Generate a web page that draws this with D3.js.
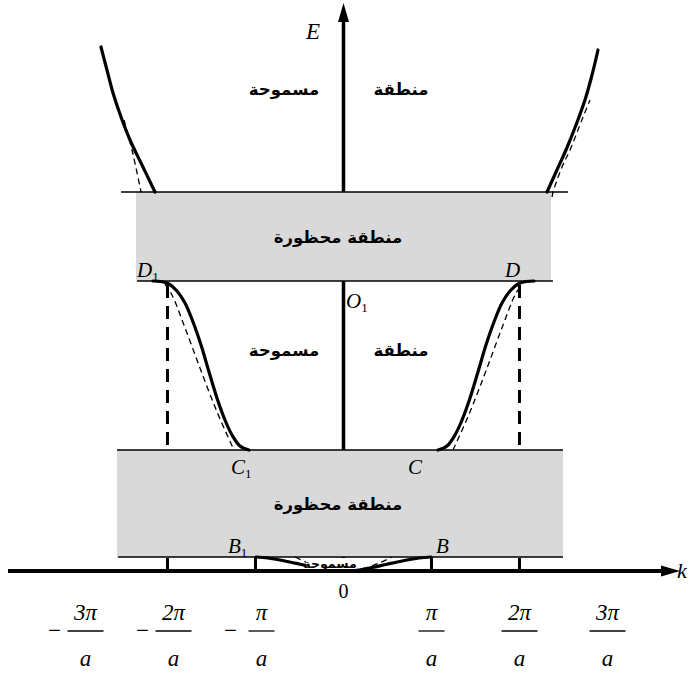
<!DOCTYPE html>
<html>
<head>
<meta charset="utf-8">
<script src="https://cdn.jsdelivr.net/npm/d3@7"></script>
<style>
  html, body { margin: 0; padding: 0; background: #fff; }
  svg { display: block; }
</style>
</head>
<body>
<svg id="chart" width="690" height="674"></svg>
<script>
// Wave vector k is measured in units of π/a, energy E in arbitrary units.
const tickK = [-3, -2, -1, 0, 1, 2, 3];
const tickNum = ["3π", "2π", "π", "0", "π", "2π", "3π"];
const tickSign = ["−", "−", "−", "", "", "", ""];

// Forbidden gaps: lower and upper energy edge of each
const gapLow = [1.4, 29.0];
const gapHigh = [12.1, 37.9];
const gapLabel = ["منطقة محظورة", "منطقة محظورة"];

// Allowed bands, E(k) (thick) and the free-electron parabola (thin dashed)
const band1 = [[-0.994, 1.4], [-0.858, 1.3], [-0.665, 1.0], [-0.494, 0.68], [-0.324, 0.35],
               [-0.176, 0.1], [0, 0], [0.176, 0.1], [0.324, 0.35], [0.494, 0.68],
               [0.665, 1.0], [0.858, 1.3], [0.994, 1.4]];
const band1Free = [[-0.55, 1.4], [-0.42, 0.85], [-0.3, 0.45], [-0.15, 0.1], [0, 0],
                   [0.15, 0.1], [0.3, 0.45], [0.42, 0.85], [0.55, 1.4]];

const band2Left = [[-2.165, 29.0], [-2.074, 28.95], [-1.983, 28.7], [-1.892, 28.0], [-1.801, 26.8],
                   [-1.710, 24.9], [-1.619, 22.6], [-1.528, 19.9], [-1.438, 17.3], [-1.347, 15.1],
                   [-1.267, 13.6], [-1.176, 12.5], [-1.074, 12.1]];
const band2Right = [[1.074, 12.1], [1.176, 12.5], [1.267, 13.6], [1.347, 15.1], [1.438, 17.3],
                    [1.528, 19.9], [1.619, 22.6], [1.710, 24.9], [1.801, 26.8], [1.892, 28.0],
                    [1.983, 28.7], [2.074, 28.95], [2.165, 29.0]];
const band2LeftFree = [[-2.028, 28.7], [-1.949, 27.6], [-1.813, 24.6], [-1.631, 20.3],
                       [-1.437, 15.9], [-1.244, 12.1]];
const band2RightFree = [[1.244, 12.1], [1.437, 15.9], [1.631, 20.3], [1.813, 24.6],
                        [1.949, 27.6], [2.028, 28.7]];

const band3Left = [[-2.756, 52.4], [-2.688, 50.1], [-2.619, 47.8], [-2.528, 45.4],
                   [-2.426, 43.1], [-2.290, 40.6], [-2.142, 37.9]];
const band3Right = [[2.313, 37.9], [2.415, 39.9], [2.528, 42.1], [2.642, 44.6],
                    [2.744, 47.1], [2.824, 49.6], [2.892, 52.1]];
const band3LeftFree = [[-2.494, 45.1], [-2.403, 42.1], [-2.301, 37.9]];
const band3RightFree = [[2.37, 37.4], [2.381, 37.9], [2.483, 40.4], [2.574, 42.1],
                        [2.722, 45.4], [2.801, 47.1]];

// Band labels ("allowed region" split either side of the E axis)
const allowedRight = "منطقة";
const allowedLeft = "مسموحة";
const allowedE = [47.6, 21.5];

const svg = d3.select("#chart");
const x = d3.scaleLinear().domain([0, 1]).range([343.5, 431.5]);
const y = d3.scaleLinear().domain([0, 10]).range([571, 471]);

const line = d3.line().x(d => x(d[0])).y(d => y(d[1])).curve(d3.curveCatmullRom.alpha(0.5));

// Vertical dashed guides at the zone boundaries
const guides = [
  { k: -2, e0: 0, e1: gapLow[1] }, { k: 2, e0: 0, e1: gapLow[1] },
  { k: -1, e0: 0, e1: gapLow[0] }, { k: 1, e0: 0, e1: gapLow[0] }
];
svg.selectAll("line.guide").data(guides).join("line")
  .attr("class", "guide")
  .attr("x1", d => x(d.k)).attr("x2", d => x(d.k))
  .attr("y1", d => y(d.e0)).attr("y2", d => y(d.e1))
  .attr("stroke", "#000").attr("stroke-width", 3)
  .attr("stroke-dasharray", "13,8");

// E axis
svg.append("line")
  .attr("x1", x(0)).attr("x2", x(0))
  .attr("y1", y(0)).attr("y2", 18)
  .attr("stroke", "#000").attr("stroke-width", 3.5);
svg.append("path")
  .attr("d", `M${x(0)},3 L${x(0) - 5.5},22 L${x(0) + 5.5},22 Z`)
  .attr("fill", "#000");

// Forbidden gaps
const gapX = [[-2.574, 2.494], [-2.358, 2.358]];
svg.selectAll("rect.gap").data(gapLow).join("rect")
  .attr("class", "gap")
  .attr("x", (d, i) => x(gapX[i][0]))
  .attr("width", (d, i) => x(gapX[i][1]) - x(gapX[i][0]))
  .attr("y", (d, i) => y(gapHigh[i]))
  .attr("height", (d, i) => y(gapLow[i]) - y(gapHigh[i]))
  .attr("fill", "#d9d9d9");

const edgeLines = [
  { e: gapLow[0], k0: -2.562, k1: 2.494 },
  { e: gapHigh[0], k0: -2.574, k1: 2.494 },
  { e: gapLow[1], k0: -2.346, k1: 2.38 },
  { e: gapHigh[1], k0: -2.528, k1: 2.551 }
];
svg.selectAll("line.edge").data(edgeLines).join("line")
  .attr("class", "edge")
  .attr("x1", d => x(d.k0)).attr("x2", d => x(d.k1))
  .attr("y1", d => y(d.e)).attr("y2", d => y(d.e))
  .attr("stroke", "#000").attr("stroke-width", 1.6);

// Free-electron parabola segments
[band1Free, band2LeftFree, band2RightFree, band3LeftFree, band3RightFree].forEach(seg => {
  svg.append("path").attr("d", line(seg))
    .attr("fill", "none").attr("stroke", "#000").attr("stroke-width", 1.3)
    .attr("stroke-dasharray", "6,4");
});

// Band curves
[band1, band2Left, band2Right, band3Left, band3Right].forEach(seg => {
  svg.append("path").attr("d", line(seg))
    .attr("fill", "none").attr("stroke", "#000").attr("stroke-width", 3.2)
    .attr("stroke-linecap", "round");
});

// Arabic labels
const arFont = "'DejaVu Sans', sans-serif";
allowedE.forEach(e => {
  svg.append("text").attr("x", 401).attr("y", y(e)).attr("text-anchor", "middle")
    .attr("font-family", arFont).attr("font-weight", "bold").attr("font-size", 16.5)
    .text(allowedRight);
  svg.append("text").attr("x", 284).attr("y", y(e)).attr("text-anchor", "middle")
    .attr("font-family", arFont).attr("font-weight", "bold").attr("font-size", 16.5)
    .text(allowedLeft);
});
gapLabel.forEach((t, i) => {
  svg.append("text").attr("x", 338).attr("y", y((gapLow[i] + gapHigh[i]) / 2) + 6)
    .attr("text-anchor", "middle")
    .attr("font-family", arFont).attr("font-weight", "bold").attr("font-size", 16.5)
    .text(t);
});
// small label inside the lowest band
const smallLbl = svg.append("g");
smallLbl.append("rect").attr("x", 306).attr("y", 558).attr("width", 50).attr("height", 11).attr("fill", "#fff");
smallLbl.append("text").attr("x", 330).attr("y", 568).attr("text-anchor", "middle")
  .attr("font-family", arFont).attr("font-weight", "bold").attr("font-size", 12.5)
  .text(allowedLeft);

// k axis
svg.append("line")
  .attr("x1", 8).attr("x2", 665)
  .attr("y1", y(0)).attr("y2", y(0))
  .attr("stroke", "#000").attr("stroke-width", 4);
svg.append("path")
  .attr("d", `M680,${y(0)} L661,${y(0) - 5.5} L661,${y(0) + 5.5} Z`)
  .attr("fill", "#000");

// Italic serif symbols
const serif = "'Liberation Serif', 'Times New Roman', serif";
function sym(txt, sub, px, py, size) {
  const t = svg.append("text").attr("x", px).attr("y", py)
    .attr("font-family", serif).attr("font-size", size);
  t.append("tspan").attr("font-style", "italic").text(txt);
  if (sub) t.append("tspan").attr("font-size", size * 0.62).attr("dy", 4).text(sub);
}
sym("E", "", 306, 39, 23);
sym("k", "", 677, 578, 22);
sym("D", "1", 137, 277, 21);
sym("D", "", 505, 277, 21);
sym("O", "1", 346, 308, 21);
sym("C", "1", 231, 474, 21);
sym("C", "", 408, 474, 21);
sym("B", "1", 228, 553, 21);
sym("B", "", 436, 553, 21);

// Tick labels: fractions nπ/a
const ticks = svg.selectAll("g.tick").data(tickK).join("g").attr("class", "tick");
ticks.each(function (k, i) {
  const g = d3.select(this);
  if (k === 0) {
    g.append("text").attr("x", x(0)).attr("y", 598).attr("text-anchor", "middle")
      .attr("font-family", serif).attr("font-size", 20).text(tickNum[i]);
    return;
  }
  const cx = x(k) + (k < 0 ? 6 : 0);
  const w = tickNum[i].length > 1 ? 36 : 26;
  g.append("text").attr("x", cx).attr("y", 620).attr("text-anchor", "middle")
    .attr("font-family", serif).attr("font-style", "italic").attr("font-size", 23)
    .text(tickNum[i]);
  g.append("line").attr("x1", cx - w / 2).attr("x2", cx + w / 2)
    .attr("y1", 631).attr("y2", 631).attr("stroke", "#000").attr("stroke-width", 1.3);
  g.append("text").attr("x", cx).attr("y", 666).attr("text-anchor", "middle")
    .attr("font-family", serif).attr("font-style", "italic").attr("font-size", 23)
    .text("a");
  if (tickSign[i]) {
    g.append("text").attr("x", cx - 31).attr("y", 638).attr("text-anchor", "middle")
      .attr("font-family", serif).attr("font-size", 23).text(tickSign[i]);
  }
});
</script>
</body>
</html>
